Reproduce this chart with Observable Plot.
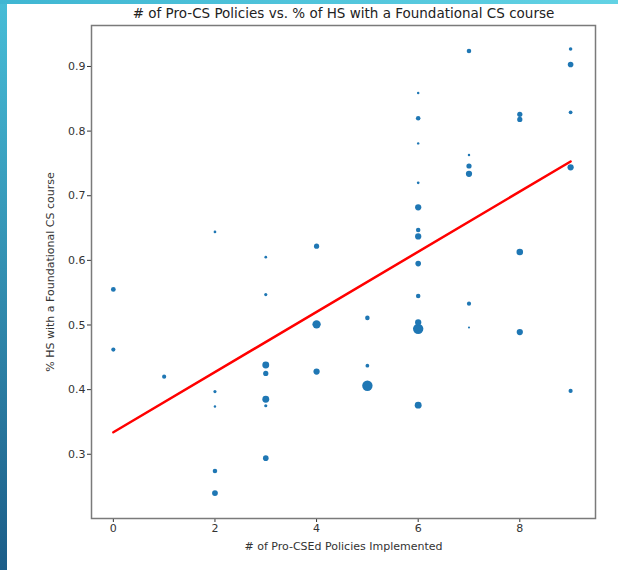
<!DOCTYPE html>
<html><head><meta charset="utf-8">
<script src="https://cdn.jsdelivr.net/npm/d3@7"></script>
<script src="https://cdn.jsdelivr.net/npm/@observablehq/plot@0.6"></script>
<style>
body{margin:0;background:#fff;}
#page{position:relative;width:618px;height:570px;overflow:hidden;background:linear-gradient(to bottom,#47bdd7,#1c5d88);}
#topband{position:absolute;left:0;top:0;width:618px;height:4px;background:linear-gradient(to right,#3fb6d2,#62d2e4);}
#white{position:absolute;left:7px;top:4px;right:0;bottom:0;background:#fff;}
#chart{position:absolute;left:0;top:0;}
</style></head><body>
<div id="page"><div id="topband"></div><div id="white"></div><div id="chart"></div></div>
<script>
const titleText = "# of Pro-CS Policies vs. % of HS with a Foundational CS course";
const xLabel = "# of Pro-CSEd Policies Implemented";
const yLabel = "% HS with a Foundational CS course";
const xTicks = [0, 2, 4, 6, 8];
const yTicks = [0.3, 0.4, 0.5, 0.6, 0.7, 0.8, 0.9];

const policies = [
  0, 0,
  1,
  2, 2, 2, 2, 2,
  3, 3, 3, 3, 3, 3, 3,
  4, 4, 4,
  5, 5, 5,
  6, 6, 6, 6, 6, 6, 6, 6, 6, 6, 6, 6,
  7, 7, 7, 7, 7, 7,
  8, 8, 8, 8,
  9, 9, 9, 9, 9
];
const pctHS = [
  0.555, 0.462,
  0.420,
  0.644, 0.397, 0.374, 0.274, 0.240,
  0.605, 0.547, 0.438, 0.425, 0.385, 0.375, 0.294,
  0.622, 0.501, 0.428,
  0.511, 0.437, 0.406,
  0.859, 0.820, 0.781, 0.720, 0.682, 0.647, 0.637, 0.595, 0.545, 0.504, 0.494, 0.376,
  0.924, 0.763, 0.746, 0.734, 0.533, 0.496,
  0.826, 0.818, 0.613, 0.489,
  0.927, 0.903, 0.829, 0.744, 0.398
];
const schoolCount = [
  5.3, 4,
  4,
  1.7, 2.3, 1.4, 4.8, 7.8,
  1.7, 2.3, 11, 6.3, 11, 2.3, 7.3,
  6.3, 16, 9,
  4.8, 3.2, 25,
  1.4, 4.8, 1.4, 1.7, 9, 4.8, 9, 7.3, 4.8, 9, 25, 11,
  4.8, 1.4, 6.3, 9, 4, 1,
  6.3, 6.3, 10, 9,
  2.9, 7.3, 3.2, 9, 4
];
const fitX = [0, 9];
const fitY = [0.334, 0.753];

const points = policies.map((p, i) => ({p, v: pctHS[i], n: schoolCount[i]}));
const fit = fitX.map((x, i) => ({x, y: fitY[i]}));

const chart = Plot.plot({
  width: 618,
  height: 570,
  marginLeft: 91,
  marginRight: 23,
  marginTop: 25,
  marginBottom: 52,
  style: {background: "transparent", fontFamily: "DejaVu Sans", color: "#333", overflow: "visible"},
  x: {domain: [-0.43, 9.49]},
  y: {domain: [0.2006, 0.9634]},
  r: {type: "sqrt", domain: [0, 25], range: [0, 5.2]},
  marks: [
    Plot.axisX({ticks: xTicks, tickSize: 4, tickPadding: 2, fontSize: 11, label: null, tickFormat: d3.format("d")}),
    Plot.axisY({ticks: yTicks, tickSize: 4, tickPadding: 2, fontSize: 11, label: null, tickFormat: d3.format(".1f")}),
    Plot.dot(points, {x: "p", y: "v", r: "n", fill: "#1f77b4", stroke: "none"}),
    Plot.line(fit, {x: "x", y: "y", stroke: "red", strokeWidth: 2.5}),
    Plot.frame({stroke: "#7a7a7a", strokeWidth: 1.5}),
    Plot.text([titleText], {text: d => d, frameAnchor: "top", textAnchor: "middle", lineAnchor: "middle", dy: -12, fontSize: 13.5, fill: "#222"}),
    Plot.text([xLabel], {text: d => d, frameAnchor: "bottom", textAnchor: "middle", lineAnchor: "middle", dy: 28, fontSize: 11, fill: "#333"}),
    Plot.text([yLabel], {text: d => d, frameAnchor: "left", textAnchor: "middle", lineAnchor: "middle", dx: -41, rotate: -90, fontSize: 11, fill: "#333"})
  ]
});
document.getElementById("chart").appendChild(chart);
</script>
</body></html>
